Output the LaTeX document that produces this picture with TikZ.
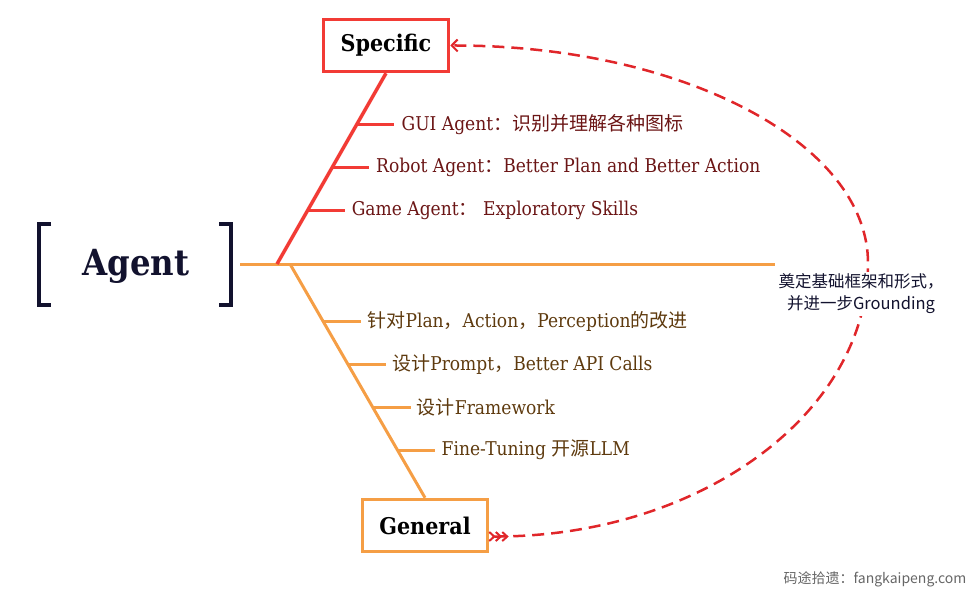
\documentclass[tikz,border=0pt]{standalone}
\usepackage{fontspec}
\setmainfont[FakeStretch=0.9]{DejaVu Serif}
\newfontfamily\cjk{Noto Sans CJK SC}
\usetikzlibrary{positioning, calc, arrows.meta}

\definecolor{navyColour}{HTML}{12122E}
\definecolor{redColour}{HTML}{F23B35}
\definecolor{orangeColour}{HTML}{F59E45}
\definecolor{maroonColour}{HTML}{6B1515}
\definecolor{brownColour}{HTML}{5E3A0E}
\definecolor{dashColour}{HTML}{E0262A}

\tikzset{
    stagebox/.style={draw, line width=3.5pt, fill=white, inner sep=0pt,
        minimum width=125pt, minimum height=52pt,
        font=\bfseries\fontsize{23}{27}\selectfont},
    leaf/.style={anchor=west, inner sep=0pt, font=\fontsize{19}{23}\selectfont},
    twig/.style={line width=3pt},
    feather/.tip={Straight Barb[reversed,length=5pt,width=9pt,line width=2pt,sep=-1pt]}
}

\begin{document}
\begin{tikzpicture}[x=1pt, y=-1pt]
    \useasboundingbox (0,0) rectangle (978,597);

    % Agent with its brackets
    \node[text=navyColour, font=\bfseries\fontsize{36}{42}\selectfont] (agent) at (136,266) {Agent};
    \draw[navyColour, line width=4pt] (51,224) -- (39,224) -- (39,305) -- (51,305);
    \draw[navyColour, line width=4pt] (219,224) -- (231,224) -- (231,305) -- (219,305);

    % Specific and General
    \node[stagebox, draw=redColour] (spec) at (386,45.5) {Specific};
    \node[stagebox, draw=orangeColour] (gen) at (425,525.5) {General};

    % Main axis
    \coordinate (axisStart) at (240,264);
    \coordinate (axisEnd) at (775,264);
    \coordinate (redRoot) at (277,264);
    \coordinate (orangeRoot) at (290,264);
    \draw[orangeColour, line width=3pt] (axisStart) -- (axisEnd);

    % Spines
    \draw[redColour, line width=3.5pt] (redRoot) -- (spec.south);
    \draw[orangeColour, line width=3pt] (orangeRoot) -- (gen.north);

    % Specific branches
    \coordinate (r1) at ($(redRoot)!0.729!(spec.south)$);
    \coordinate (r2) at ($(redRoot)!0.505!(spec.south)$);
    \coordinate (r3) at ($(redRoot)!0.281!(spec.south)$);
    \node[leaf, text=maroonColour, right=45pt of r1] (gui) {GUI Agent{\cjk ：识别并理解各种图标}};
    \node[leaf, text=maroonColour, right=44pt of r2] (robot) {Robot Agent{\cjk ：}Better Plan and Better Action};
    \node[leaf, text=maroonColour, right=44pt of r3] (game) {Game Agent{\cjk ：} Exploratory Skills};
    \foreach \p/\l in {r1/gui, r2/robot, r3/game}
        \draw[redColour, twig] (\p) -- ([xshift=-7pt]\l.west);

    % General branches
    \coordinate (o1) at ($(orangeRoot)!0.247!(gen.north)$);
    \coordinate (o2) at ($(orangeRoot)!0.430!(gen.north)$);
    \coordinate (o3) at ($(orangeRoot)!0.613!(gen.north)$);
    \coordinate (o4) at ($(orangeRoot)!0.796!(gen.north)$);
    \node[leaf, text=brownColour, right=44pt of o1] (plan) {{\cjk 针对}Plan{\cjk ，}Action{\cjk ，}Perception{\cjk 的改进}};
    \node[leaf, text=brownColour, right=44pt of o2] (prompt) {{\cjk 设计}Prompt{\cjk ，}Better API Calls};
    \node[leaf, text=brownColour, right=44pt of o3] (frame) {{\cjk 设计}Framework};
    \node[leaf, text=brownColour, right=44pt of o4] (tune) {Fine-Tuning {\cjk 开源}LLM};
    \foreach \p/\l in {o1/plan, o2/prompt, o3/frame, o4/tune}
        \draw[orangeColour, twig] (\p) -- ([xshift=-6pt]\l.west);

    % Grounding loop
    \coordinate (turn) at (868,263);
    \draw[dashColour, line width=2.5pt, dash pattern=on 12pt off 7pt,
        {feather[]feather[]feather[]}-{Straight Barb[length=6pt,width=12pt,line width=2pt]}]
        ([yshift=-11pt]gen.east) .. controls (699,537) and (868,414) .. (turn)
        .. controls (868,143) and (682,45) .. (spec.east);
    \node[fill=white, inner sep=2pt, align=center, text=navyColour,
        font=\cjk\fontsize{16.5}{22}\selectfont] (note) at (861,294)
        {奠定基础框架和形式，\\并进一步Grounding};

    % Watermark
    \node[text=black!60, font=\cjk\fontsize{14}{16}\selectfont] (mark) at (875,579) {码途拾遗：fangkaipeng.com};
\end{tikzpicture}
\end{document}
